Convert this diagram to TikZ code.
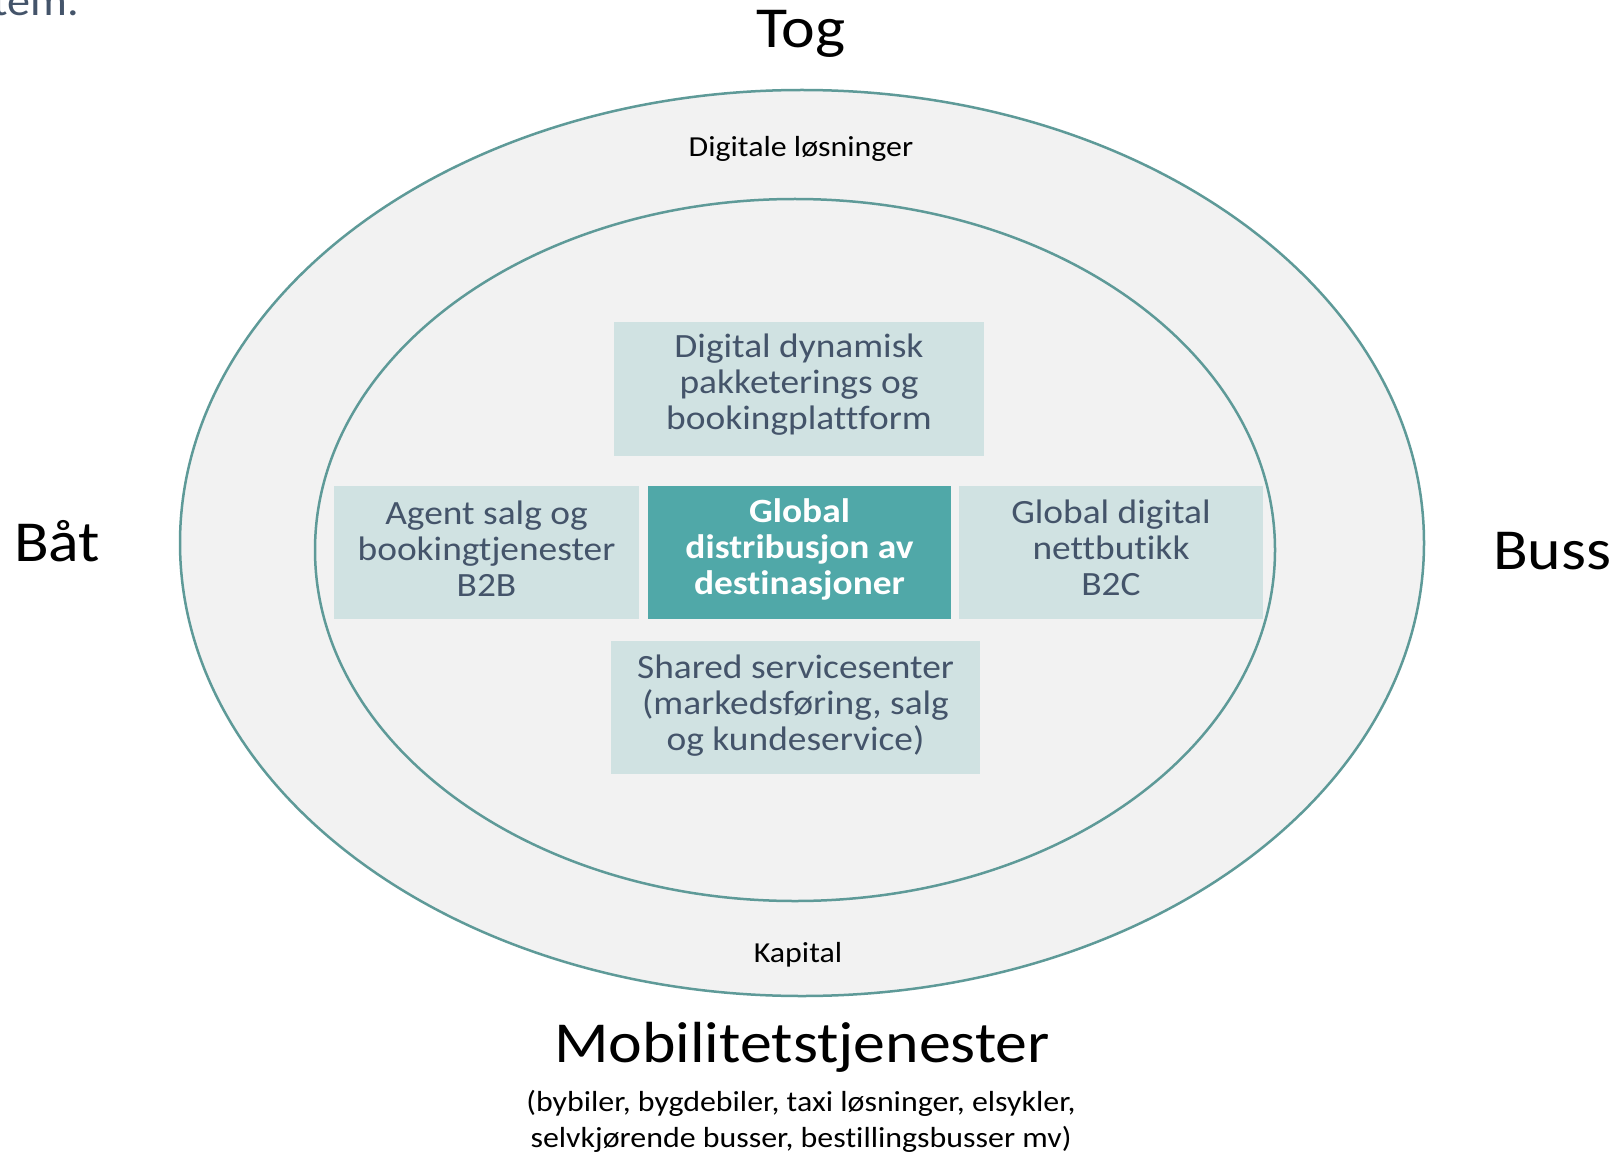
\documentclass[tikz,border=0pt]{standalone}
\usepackage{fontspec}
\setmainfont{Carlito}[Ligatures={NoCommon},FakeStretch=1.1]
\definecolor{ringfill}{HTML}{F2F2F2}
\definecolor{ringline}{HTML}{5E9A98}
\definecolor{boxlight}{HTML}{D0E2E2}
\definecolor{boxdark}{HTML}{50A8A8}
\definecolor{txtblue}{HTML}{44546A}
\begin{document}
\begin{tikzpicture}[x=1pt,y=-1pt,
  ring/.style={draw=ringline,fill=ringfill,line width=2.5pt},
  lightbox/.style={fill=boxlight,inner sep=0pt},
  darkbox/.style={fill=boxdark,inner sep=0pt},
  lighttext/.style={text=txtblue,align=center,inner sep=0pt,
    font=\fontsize{34}{36}\selectfont},
  darktext/.style={text=white,align=center,inner sep=0pt,
    font=\fontsize{34}{36}\selectfont\bfseries},
  biglabel/.style={inner sep=0pt,font=\fontsize{58}{68}\selectfont},
  smalllabel/.style={inner sep=0pt,anchor=base,font=\fontsize{29}{35}\selectfont},
  sublabel/.style={inner sep=0pt,anchor=base,font=\fontsize{29}{34}\selectfont}]
\useasboundingbox (0,0) rectangle (1613,1155);
\fill[white] (0,0) rectangle (1613,1155);
% top-left cut text
\node[inner sep=0pt,anchor=base east,text=txtblue,font=\fontsize{42}{50}\selectfont] (cut) at (79,16) {tem.};
% ellipses
\draw[ring] (802,543) ellipse [x radius=622, y radius=453];
\draw[ring] (795,550) ellipse [x radius=480, y radius=351];
% labels
\node[biglabel,anchor=base] (tog) at (801,48) {Tog};
\node[biglabel,anchor=base west] (bat) at (14,561) {Båt};
\node[biglabel,anchor=base west] (buss) at (1493,569) {Buss};
\node[smalllabel] (dig) at (801,157) {Digitale løsninger};
\node[smalllabel] (kap) at (798,962) {Kapital};
\node[inner sep=0pt,anchor=base,font=\fontsize{58}{70}\selectfont] (mob) at (802,1062) {Mobilitetstjenester};
\node[sublabel] (sub1) at (801,1111) {(bybiler, bygdebiler, taxi løsninger, elsykler,};
\node[sublabel] (sub2) at (801,1147) {selvkjørende busser, bestillingsbusser mv)};
% boxes
\node[lightbox,minimum width=370,minimum height=134] (top) at (799,389) {};
\node[lightbox,minimum width=305,minimum height=133] (left) at (486.5,552.5) {};
\node[darkbox,minimum width=303,minimum height=133] (mid) at (799.5,552.5) {};
\node[lightbox,minimum width=304,minimum height=133] (right) at (1111,552.5) {};
\node[lightbox,minimum width=369,minimum height=133] (bot) at (795.5,707.5) {};
% box texts
\node[lighttext] (topt) at ([yshift=4pt]top.center)
  {Digital dynamisk\\pakketerings og\\bookingplattform};
\node[lighttext] (leftt) at ([yshift=4pt]left.center)
  {Agent salg og\\bookingtjenester\\B2B};
\node[darktext] (midt) at ([yshift=3pt]mid.center)
  {Global\\distribusjon av\\destinasjoner};
\node[lighttext] (rightt) at ([yshift=5pt]right.center)
  {Global digital\\nettbutikk\\B2C};
\node[lighttext] (bott) at ([yshift=2pt]bot.center)
  {Shared servicesenter\\(markedsføring, salg\\og kundeservice)};
\end{tikzpicture}
\end{document}
